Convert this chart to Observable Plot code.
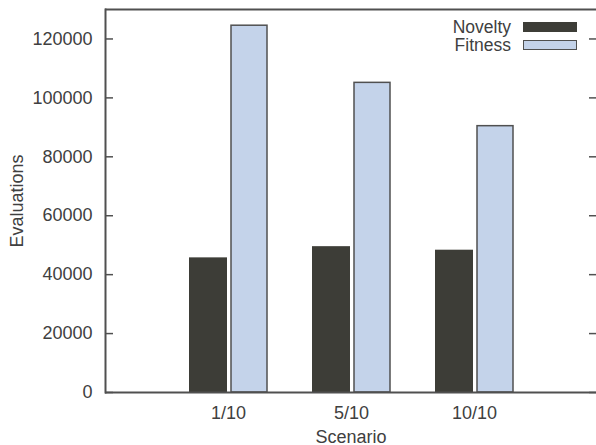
<!DOCTYPE html>
<html><head><meta charset="utf-8">
<script src="https://cdn.jsdelivr.net/npm/d3@7"></script>
<script src="https://cdn.jsdelivr.net/npm/@observablehq/plot@0.6"></script>
<style>
body{margin:0;background:#fff;}
#wrap{position:relative;width:596px;height:445px;font-family:"Liberation Sans",Arial,sans-serif;color:#404040;}
#legend{position:absolute;right:19px;top:18px;font-size:17.5px;line-height:18px;}
#legend .row{display:flex;align-items:center;justify-content:flex-end;height:18px;}
#legend .lab{display:inline-block;height:18px;line-height:18px;}
#legend .sw{display:inline-block;width:54px;height:10px;margin-left:12px;box-sizing:border-box;}
</style></head><body><div id="wrap"></div>
<script>
const scenarios = ["1/10", "5/10", "10/10"];
const novelty = [45700, 49500, 48300];
const fitness = [124500, 105100, 90400];
const yTicks = [0, 20000, 40000, 60000, 80000, 100000, 120000];
const seriesNames = ["Novelty", "Fitness"];
const seriesColors = ["#3d3d37", "#c4d3ea"];
const lineColor = "#505050";

const novData = scenarios.map((s, i) => ({scenario: s, series: seriesNames[0], value: novelty[i]}));
const fitData = scenarios.map((s, i) => ({scenario: s, series: seriesNames[1], value: fitness[i]}));

const chart = Plot.plot({
  width: 596, height: 445,
  marginLeft: 105, marginRight: 0, marginTop: 9, marginBottom: 53,
  style: {fontFamily: '"Liberation Sans", Arial, sans-serif', fontSize: "18px", color: "#404040", background: "#fff", overflow: "visible"},
  x: {domain: scenarios, range: [105, 597], paddingInner: 0.366, paddingOuter: 0.683},
  y: {domain: [0, 130000]},
  marks: [
    Plot.barY(novData, {x: "scenario", y: "value", fill: seriesColors[0], insetRight: 40}),
    Plot.barY(fitData, {x: "scenario", y: "value", fill: seriesColors[1], stroke: lineColor, strokeWidth: 1.5, insetLeft: 42}),
    Plot.axisY(yTicks, {tickSize: 0, tickPadding: 13, tickFormat: d3.format("d"), label: "Evaluations", labelAnchor: "center", labelArrow: "none", labelOffset: 95}),
    Plot.axisY(yTicks, {tickSize: -8, tickFormat: () => "", label: null, stroke: lineColor, strokeWidth: 1.5}),
    Plot.axisY(yTicks, {anchor: "right", tickSize: -8, tickFormat: () => "", label: null, stroke: lineColor, strokeWidth: 1.5}),
    Plot.axisX({tickSize: 0, tickPadding: 14, label: "Scenario", labelAnchor: "center", labelArrow: "none", labelOffset: 50}),
    Plot.ruleY([0, 130000], {stroke: lineColor, strokeWidth: 2}),
    Plot.frame({anchor: "left", stroke: lineColor, strokeWidth: 2})
  ]
});
const wrap = document.getElementById("wrap");
wrap.appendChild(chart);
const legend = document.createElement("div");
legend.id = "legend";
seriesNames.forEach((name, i) => {
  const row = document.createElement("div");
  row.className = "row";
  const t = document.createElement("span");
  t.className = "lab";
  t.textContent = name;
  const sw = document.createElement("span");
  sw.className = "sw";
  sw.style.background = seriesColors[i];
  sw.style.border = i === 1 ? "1.5px solid " + lineColor : "none";
  row.appendChild(t); row.appendChild(sw);
  legend.appendChild(row);
});
wrap.appendChild(legend);
</script></body></html>
